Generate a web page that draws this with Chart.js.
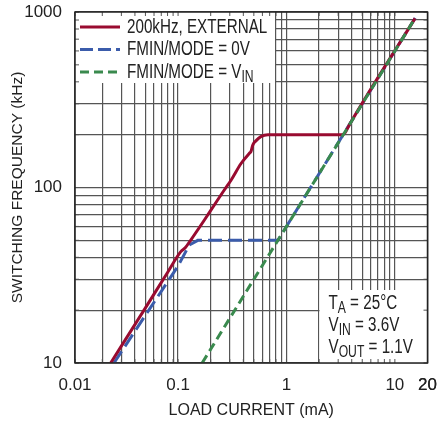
<!DOCTYPE html>
<html>
<head>
<meta charset="utf-8">
<script src="https://cdn.jsdelivr.net/npm/chart.js@4.4.1/dist/chart.umd.min.js"></script>
<style>
  html, body { margin: 0; padding: 0; background: #fff; }
  #chart { display: block; }
</style>
</head>
<body>
<canvas id="chart" width="439" height="425"></canvas>
<script>
const FONT = '"Liberation Sans", Arial, sans-serif';

// 200kHz, EXTERNAL
const redCurrent = [0.0239, 0.05, 0.08, 0.106, 0.117, 0.131, 0.175, 0.216, 0.267, 0.308, 0.381, 0.455, 0.47, 0.49, 0.525, 0.58, 0.675, 1.5, 3.2, 3.45, 3.84, 15.35];
const redFreq    = [10, 20.6, 32.8, 43.1, 45.5, 50.2, 65.3, 79.5, 96.8, 110, 137, 156.6, 160, 175, 185, 195, 200, 200, 200, 204, 230, 920];

// FMIN/MODE = 0V
const blueCurrent = [0.0256, 0.05, 0.099, 0.127, 0.152, 0.834, 15.4];
const blueFreq    = [10, 18.7, 35.4, 47, 50, 50, 924];

// FMIN/MODE = VIN
const greenCurrent = [0.1667, 0.834, 3.21, 15.4];
const greenFreq    = [10, 50, 192, 924];

const xMin = 0.0112, xMax = 20;
const yMin = 10, yMax = 1000;
const xMajorLabels = { 0.0112: '0.01', 0.1: '0.1', 1: '1', 10: '10', 20: '20' };
const yMajorLabels = { 10: '10', 100: '100', 1000: '1000' };

const legendLabels = [
  [['200kHz, EXTERNAL', false]],
  [['FMIN/MODE = 0V', false]],
  [['FMIN/MODE = V', false], ['IN', true]]
];
const conditionLabels = [
  [['T', false], ['A', true], [' = 25°C', false]],
  [['V', false], ['IN', true], [' = 3.6V', false]],
  [['V', false], ['OUT', true], [' = 1.1V', false]]
];

const RED = '#990b30', BLUE = '#3b5cab', GREEN = '#3a8a4e';
const GRID = '#555';

// grid positions: 1..9 of every decade
const xGrid = [xMin];
for (let d = 0.01; d < 20; d *= 10) {
  for (let k = 1; k <= 9; k++) {
    const v = +(d * k).toPrecision(3);
    if (v > xMin && v <= xMax) xGrid.push(v);
  }
}
xGrid.push(xMax);
const yGrid = [];
for (let d = 10; d < 1000; d *= 10) {
  for (let k = 1; k <= 9; k++) yGrid.push(d * k);
}
yGrid.push(1000);

const toPoints = (xs, ys) => xs.map((x, i) => ({ x, y: ys[i] }));

// condensed text with subscripts
function drawParts(ctx, parts, x, y, size) {
  ctx.save();
  ctx.translate(x, y);
  ctx.scale(0.76, 1);
  let cx = 0;
  parts.forEach(([txt, sub]) => {
    ctx.font = (sub ? Math.round(size * 0.82) : size) + 'px ' + FONT;
    ctx.fillText(txt, cx, sub ? size * 0.3 : 0);
    cx += ctx.measureText(txt).width;
  });
  ctx.restore();
}

const overlay = {
  id: 'overlay',
  beforeDatasetsDraw(chart) {
    const { ctx, chartArea: a, scales } = chart;
    ctx.save();
    ctx.fillStyle = '#fff';
    ctx.fillRect(a.left, a.top, 200, 71);
    ctx.fillRect(a.right - 108, a.bottom - 73, 108, 73);
    // inward tick marks on the frame
    ctx.strokeStyle = GRID;
    ctx.lineWidth = 1;
    ctx.beginPath();
    xGrid.forEach(v => {
      const px = scales.x.getPixelForValue(v);
      ctx.moveTo(px, a.bottom); ctx.lineTo(px, a.bottom - 4);
      ctx.moveTo(px, a.top); ctx.lineTo(px, a.top + 4);
    });
    yGrid.forEach(v => {
      const py = scales.y.getPixelForValue(v);
      ctx.moveTo(a.left, py); ctx.lineTo(a.left + 4, py);
      ctx.moveTo(a.right, py); ctx.lineTo(a.right - 4, py);
    });
    ctx.stroke();
    ctx.restore();
  },
  afterDatasetsDraw(chart) {
    const { ctx, chartArea: a } = chart;
    ctx.save();
    ctx.strokeStyle = '#222';
    ctx.lineWidth = 1.5;
    ctx.strokeRect(a.left, a.top, a.right - a.left, a.bottom - a.top);

    // legend
    const samples = [
      { color: RED, dash: [] },
      { color: BLUE, dash: [13, 5] },
      { color: GREEN, dash: [9, 5] }
    ];
    ctx.textBaseline = 'middle';
    ctx.fillStyle = '#222';
    legendLabels.forEach((parts, i) => {
      const y = a.top + 15 + i * 22.5;
      ctx.beginPath();
      ctx.setLineDash(samples[i].dash);
      ctx.strokeStyle = samples[i].color;
      ctx.lineWidth = 3;
      ctx.moveTo(a.left + 5, y);
      ctx.lineTo(a.left + 45, y);
      ctx.stroke();
      drawParts(ctx, parts, a.left + 52, y, 20);
    });
    ctx.setLineDash([]);

    // conditions
    conditionLabels.forEach((parts, i) => {
      const y = a.bottom - 60 + i * 22;
      drawParts(ctx, parts, a.right - 99, y, 20);
    });
    ctx.restore();
  }
};

new Chart(document.getElementById('chart'), {
  type: 'line',
  data: {
    datasets: [
      {
        label: '200kHz, EXTERNAL',
        data: toPoints(redCurrent, redFreq),
        borderColor: RED,
        borderWidth: 3,
        pointRadius: 0,
        cubicInterpolationMode: 'monotone',
        order: 2
      },
      {
        label: 'FMIN/MODE = 0V',
        data: toPoints(blueCurrent, blueFreq),
        borderColor: BLUE,
        borderWidth: 3,
        borderDash: [14, 6],
        pointRadius: 0,
        tension: 0,
        order: 3
      },
      {
        label: 'FMIN/MODE = VIN',
        data: toPoints(greenCurrent, greenFreq),
        borderColor: GREEN,
        borderWidth: 3,
        borderDash: [9, 5],
        pointRadius: 0,
        tension: 0,
        order: 1
      }
    ]
  },
  options: {
    responsive: false,
    animation: false,
    layout: { padding: { top: 12, right: 11.5, left: 0, bottom: 0 } },
    plugins: { legend: { display: false }, tooltip: { enabled: false } },
    scales: {
      x: {
        type: 'logarithmic',
        min: xMin,
        max: xMax,
        afterBuildTicks: s => { s.ticks = xGrid.map(v => ({ value: v })); },
        afterFit: s => { s.height = 62; s.paddingLeft = 0; s.paddingRight = 0; },
        ticks: {
          autoSkip: false,
          maxRotation: 0,
          padding: 12,
          color: '#222',
          font: { family: FONT, size: 17 },
          callback: v => xMajorLabels[v] || ''
        },
        grid: { color: GRID, lineWidth: 1.2, drawTicks: false },
        border: { display: false },
        title: {
          display: true,
          text: 'LOAD CURRENT (mA)',
          color: '#222',
          font: { family: FONT, size: 16 },
          padding: { top: 0, bottom: 5 }
        }
      },
      y: {
        type: 'logarithmic',
        min: yMin,
        max: yMax,
        afterBuildTicks: s => { s.ticks = yGrid.map(v => ({ value: v })); },
        afterFit: s => { s.width = 75; s.paddingTop = 0; s.paddingBottom = 0; },
        ticks: {
          autoSkip: false,
          padding: 13,
          color: '#222',
          font: { family: FONT, size: 17 },
          callback: v => yMajorLabels[v] || ''
        },
        grid: { color: GRID, lineWidth: 1.2, drawTicks: false },
        border: { display: false },
        title: {
          display: true,
          text: 'SWITCHING FREQUENCY (kHz)',
          color: '#222',
          font: { family: FONT, size: 15.5 },
          padding: { top: 8, bottom: 0 }
        }
      }
    }
  },
  plugins: [overlay]
});
</script>
</body>
</html>
